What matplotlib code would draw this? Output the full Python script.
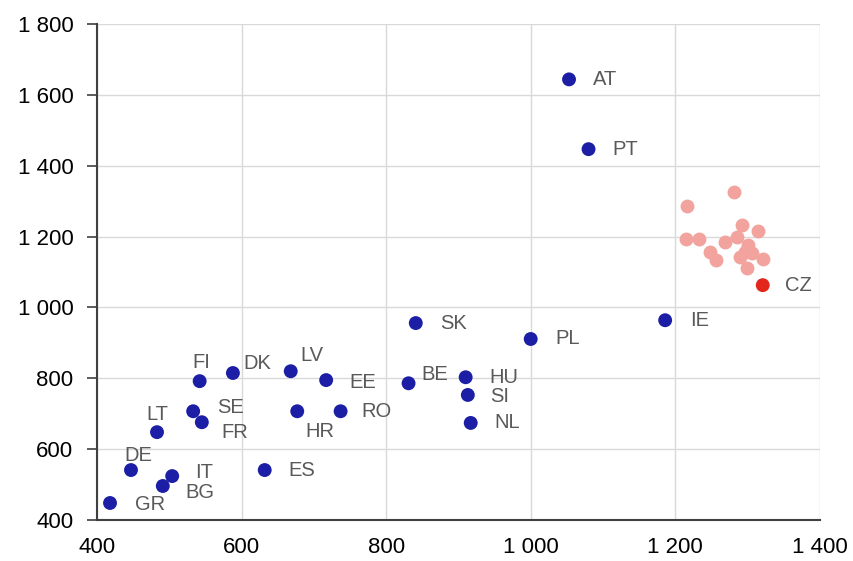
import matplotlib
matplotlib.use("Agg")
import matplotlib.pyplot as plt
from matplotlib.ticker import FuncFormatter

plt.rcParams['font.family'] = ['Liberation Sans', 'DejaVu Sans']

countries = ["AT", "PT", "CZ", "IE", "SK", "PL", "LV", "DK", "FI", "EE", "BE", "HU",
             "SI", "NL", "SE", "FR", "HR", "RO", "LT", "DE", "ES", "IT", "BG", "GR"]
xs = [1053, 1080, 1321, 1186, 841, 1000, 668, 588, 542, 717, 831, 910,
      913, 917, 533, 545, 677, 737, 483, 447, 632, 504, 491, 418]
ys = [1644, 1447, 1063, 964, 956, 911, 820, 815, 792, 795, 786, 803,
      753, 674, 707, 676, 707, 707, 648, 541, 541, 524, 496, 448]
# label offsets in pixels (dx, dy)
offsets = {"AT": (24, 0), "PT": (24, 0), "CZ": (22, 0), "IE": (25, 0), "SK": (24, 0),
           "PL": (25, 0), "LV": (10, 16), "DK": (10, 10), "FI": (-7, 19), "EE": (23, -2),
           "BE": (13, 9), "HU": (24, 0), "SI": (22, -2), "NL": (24, 0), "SE": (24, 4),
           "FR": (20, -10), "HR": (8, -20), "RO": (21, 0), "LT": (-11, 18), "DE": (-7, 15),
           "ES": (24, 0), "IT": (23, 4), "BG": (23, -7), "GR": (25, -2)}

# other (unlabelled) regions
other_x = [1281, 1216, 1293, 1314, 1215, 1233, 1269, 1285, 1300, 1248, 1257, 1289,
           1306, 1321, 1299, 1296]
other_y = [1325, 1286, 1232, 1215, 1193, 1193, 1184, 1198, 1176, 1156, 1133, 1142,
           1153, 1136, 1111, 1156]

fig = plt.figure(figsize=(8.54, 5.61), dpi=100)
ax = fig.add_axes([0.1136, 0.0731, 0.8464, 0.8839])

ax.scatter(other_x, other_y, s=100, color="#F2A39E", zorder=3, linewidths=0)
cols = ["#E2261C" if c == "CZ" else "#1C1FA6" for c in countries]
ax.scatter(xs, ys, s=100, color=cols, zorder=4, linewidths=0)

for c, x, y in zip(countries, xs, ys):
    dx, dy = offsets[c]
    ax.annotate(c, (x, y), xytext=(dx, dy), textcoords="offset pixels",
                ha="left", va="center", fontsize=14.5, color="#595959")

ax.set_xlim(400, 1400)
ax.set_ylim(400, 1800)
ax.set_xticks(range(400, 1401, 200))
ax.set_yticks(range(400, 1801, 200))
fmt = FuncFormatter(lambda v, p: f"{int(v):,}".replace(",", " "))
ax.xaxis.set_major_formatter(fmt)
ax.yaxis.set_major_formatter(fmt)
ax.tick_params(axis="x", length=0, labelsize=16, pad=12)
ax.tick_params(axis="y", length=7, width=1.2, labelsize=16, color="#404040", pad=10)
ax.grid(True, color="#D9D9D9", lw=1)
ax.set_axisbelow(True)
for s in ["top", "right"]:
    ax.spines[s].set_visible(False)
for s in ["left", "bottom"]:
    ax.spines[s].set_color("#404040")
    ax.spines[s].set_linewidth(1.5)

fig.savefig("out.png", dpi=100)
